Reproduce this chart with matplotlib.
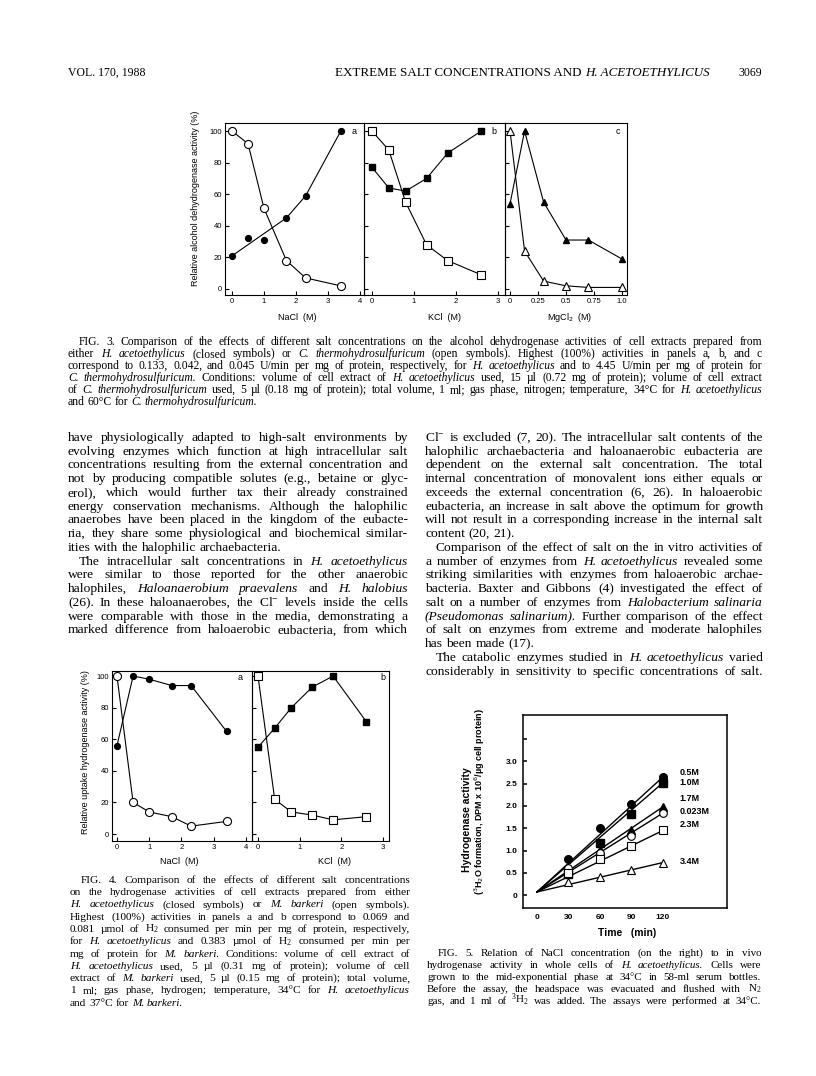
import matplotlib
matplotlib.use("agg")
import matplotlib.pyplot as plt

plt.rcParams['font.family'] = ['Liberation Sans', 'DejaVu Sans']
plt.rcParams['mathtext.fontset'] = 'custom'
plt.rcParams['mathtext.rm'] = 'Liberation Serif'
plt.rcParams['mathtext.it'] = 'Liberation Serif:italic'
plt.rcParams['mathtext.bf'] = 'Liberation Serif:bold'

# ---- data: Fig. 3 (alcohol dehydrogenase, % of max) ----
nacl_x = [0, 0.5, 1.0, 1.7, 2.3, 3.4]
adh_nacl_closed = [21, 32, 31, 45, 59, 100]
adh_nacl_closed_curve = [0, 3, 4, 5]          # points the drawn curve passes through
adh_nacl_open = [100, 92, 51, 18, 7, 2]
kcl_x = [0, 0.4, 0.8, 1.3, 1.8, 2.6]
adh_kcl_closed = [77, 64, 62, 70, 86, 100]
adh_kcl_open = [100, 88, 55, 28, 18, 9]
mgcl_x = [0, 0.13, 0.3, 0.5, 0.7, 1.0]
adh_mgcl_closed = [54, 100, 55, 31, 31, 19]
adh_mgcl_open = [100, 24, 5, 2, 1, 1]

# ---- data: Fig. 4 (uptake hydrogenase, % of max) ----
h2_nacl_x = [0, 0.5, 1.0, 1.7, 2.3, 3.4]
h2_nacl_closed = [56, 100, 98, 94, 94, 65]
h2_nacl_open = [100, 20, 14, 11, 5, 8]
h2_kcl_x = [0, 0.4, 0.8, 1.3, 1.8, 2.6]
h2_kcl_closed = [55, 67, 80, 93, 100, 71]
h2_kcl_open = [100, 22, 14, 12, 9, 11]

# ---- data: Fig. 5 (3H2O formation vs time) ----
time_min = [30, 60, 90, 120]
fit_origin = 0.07
salt_labels = ['0.5M', '1.0M', '1.7M', '0.023M', '2.3M', '3.4M']
h2o_05 = [0.80, 1.50, 2.05, 2.65]
h2o_10 = [0.47, 1.16, 1.83, 2.52]
h2o_17 = [0.55, 1.02, 1.46, 1.98]
h2o_0023 = [0.60, 0.95, 1.33, 1.84]
h2o_23 = [0.50, 0.80, 1.10, 1.45]
h2o_34 = [0.29, 0.41, 0.57, 0.73]

# ---- page text ----
left_col = [
    "have physiologically adapted to high-salt environments by",
    "evolving enzymes which function at high intracellular salt",
    "concentrations resulting from the external concentration and",
    "not by producing compatible solutes (e.g., betaine or glyc-",
    "erol), which would further tax their already constrained",
    "energy conservation mechanisms. Although the halophilic",
    "anaerobes have been placed in the kingdom of the eubacte-",
    "ria, they share some physiological and biochemical similar-",
    "ities with the halophilic archaebacteria.",
    "The intracellular salt concentrations in *H. acetoethylicus*",
    "were similar to those reported for the other anaerobic",
    "halophiles, *Haloanaerobium praevalens* and *H. halobius*",
    "(26). In these haloanaerobes, the Cl$^{-}$ levels inside the cells",
    "were comparable with those in the media, demonstrating a",
    "marked difference from haloaerobic eubacteria, from which",
]
right_col = [
    "Cl$^{-}$ is excluded (7, 20). The intracellular salt contents of the",
    "halophilic archaebacteria and haloanaerobic eubacteria are",
    "dependent on the external salt concentration. The total",
    "internal concentration of monovalent ions either equals or",
    "exceeds the external concentration (6, 26). In haloaerobic",
    "eubacteria, an increase in salt above the optimum for growth",
    "will not result in a corresponding increase in the internal salt",
    "content (20, 21).",
    "Comparison of the effect of salt on the in vitro activities of",
    "a number of enzymes from *H. acetoethylicus* revealed some",
    "striking similarities with enzymes from haloaerobic archae-",
    "bacteria. Baxter and Gibbons (4) investigated the effect of",
    "salt on a number of enzymes from *Halobacterium salinaria*",
    "(*Pseudomonas salinarium*). Further comparison of the effect",
    "of salt on enzymes from extreme and moderate halophiles",
    "has been made (17).",
    "The catabolic enzymes studied in *H. acetoethylicus* varied",
    "considerably in sensitivity to specific concentrations of salt.",
]
cap3 = [
    "FIG. 3. Comparison of the effects of different salt concentrations on the alcohol dehydrogenase activities of cell extracts prepared from",
    "either *H. acetoethylicus* (closed symbols) or *C. thermohydrosulfuricum* (open symbols). Highest (100%) activities in panels a, b, and c",
    "correspond to 0.133, 0.042, and 0.045 U/min per mg of protein, respectively, for *H. acetoethylicus* and to 4.45 U/min per mg of protein for",
    "*C. thermohydrosulfuricum*. Conditions: volume of cell extract of *H. acetoethylicus* used, 15 µl (0.72 mg of protein); volume of cell extract",
    "of *C. thermohydrosulfuricum* used, 5 µl (0.18 mg of protein); total volume, 1 ml; gas phase, nitrogen; temperature, 34°C for *H. acetoethylicus*",
    "and 60°C for *C. thermohydrosulfuricum*.",
]
cap4 = [
    "FIG. 4. Comparison of the effects of different salt concentrations",
    "on the hydrogenase activities of cell extracts prepared from either",
    "*H. acetoethylicus* (closed symbols) or *M. barkeri* (open symbols).",
    "Highest (100%) activities in panels a and b correspond to 0.069 and",
    "0.081 µmol of H$_2$ consumed per min per mg of protein, respectively,",
    "for *H. acetoethylicus* and 0.383 µmol of H$_2$ consumed per min per",
    "mg of protein for *M. barkeri*. Conditions: volume of cell extract of",
    "*H. acetoethylicus* used, 5 µl (0.31 mg of protein); volume of cell",
    "extract of *M. barkeri* used, 5 µl (0.15 mg of protein); total volume,",
    "1 ml; gas phase, hydrogen; temperature, 34°C for *H. acetoethylicus*",
    "and 37°C for *M. barkeri*.",
]
cap5 = [
    "FIG. 5. Relation of NaCl concentration (on the right) to in vivo",
    "hydrogenase activity in whole cells of *H. acetoethylicus*. Cells were",
    "grown to the mid-exponential phase at 34°C in 58-ml serum bottles.",
    "Before the assay, the headspace was evacuated and flushed with N$_2$",
    "gas, and 1 ml of $^3$H$_2$ was added. The assays were performed at 34°C.",
]

W, H = 816, 1076
fig = plt.figure(figsize=(W / 100, H / 100), dpi=100)
page = fig.add_axes([0, 0, 1, 1], zorder=0)
page.set_xlim(0, W)
page.set_ylim(H, 0)
page.axis('off')
renderer = fig.canvas.get_renderer()
SERIF = 'Liberation Serif'


def put_line(line, x0, x1, yc, size, justify=True, indent=0):
    toks, cur = [], False
    for tok in line.split():
        ital = cur or ('*' in tok)
        if tok.count('*') % 2:
            cur = not cur
        toks.append((tok.replace('*', ''), ital))
    y = yc + 0.33 * size * 100 / 72
    arts = [page.text(0, y, w, fontsize=size, family=SERIF, va='baseline',
                      style='italic' if it else 'normal') for w, it in toks]
    widths = [a.get_window_extent(renderer).width for a in arts]
    x = x0 + indent
    gap = 0.25 * size * 100 / 72
    if justify and len(arts) > 1:
        gap = (x1 - x - sum(widths)) / (len(arts) - 1)
    for a, w in zip(arts, widths):
        a.set_x(x)
        x += w + gap


def put_block(lines, x0, x1, y0, dy, size, indents=(), lasts=(), ind=11):
    for i, ln in enumerate(lines):
        put_line(ln, x0, x1, y0 + i * dy, size, justify=i not in lasts,
                 indent=ind if i in indents else 0)


# header: running title spans x 335..708
page.text(68, 76, "VOL. 170, 1988", family=SERIF, fontsize=8.5, va='baseline')
page.text(762, 76, "3069", family=SERIF, fontsize=8.5, va='baseline', ha='right')
h1 = page.text(335, 76, "EXTREME SALT CONCENTRATIONS AND ", family=SERIF,
               fontsize=8.5, va='baseline')
h2 = page.text(335, 76, "H. ACETOETHYLICUS", family=SERIF, fontsize=8.5,
               style='italic', va='baseline')
w1 = h1.get_window_extent(renderer).width
w2 = h2.get_window_extent(renderer).width
hs = 8.5 * (708 - 335) / (w1 + w2)
h1.set_fontsize(hs)
h2.set_fontsize(hs)
h2.set_x(335 + h1.get_window_extent(renderer).width)

put_block(cap3, 68, 762, 341, 12.0, 8.4, indents={0}, lasts={5})
put_block(left_col, 68, 408, 436.5, 13.75, 9.7, indents={9}, lasts={8})
put_block(right_col, 425, 763, 436.5, 13.75, 9.7, indents={8, 16}, lasts={7, 15})
put_block(cap4, 70, 410, 879, 12.3, 8.2, indents={0}, lasts={10})
put_block(cap5, 427, 761, 952, 12.0, 7.9, indents={0})


def box(x0, y0, x1, y1):
    return fig.add_axes([x0 / W, 1 - y1 / H, (x1 - x0) / W, (y1 - y0) / H], zorder=2)


def style(ax, lw=0.8, size=5.5, pad=2):
    for s in ax.spines.values():
        s.set_linewidth(lw)
    ax.tick_params(direction='in', length=3, width=lw, labelsize=size, pad=pad)
    ax.patch.set_alpha(0)


closed = dict(color='black', lw=0.8, mfc='black', mec='black')
opened = dict(color='black', lw=0.8, mfc='white', mec='black', mew=0.8)

# ---- Fig. 3 ----
a3 = box(225, 123, 364, 295)
b3 = box(364, 123, 505, 295)
c3 = box(505, 123, 627, 295)
for ax in (a3, b3, c3):
    style(ax)
    ax.set_ylim(-3.8, 105.1)
    ax.set_yticks([0, 20, 40, 60, 80, 100])
b3.set_yticklabels([])
c3.set_yticklabels([])
a3.set_xlim(-0.22, 4.125)
a3.set_xticks([0, 1, 2, 3, 4])
b3.set_xlim(-0.19, 3.167)
b3.set_xticks([0, 1, 2, 3])
c3.set_xlim(-0.045, 1.045)
c3.set_xticks([0, 0.25, 0.5, 0.75, 1.0])
c3.set_xticklabels(['0', '0.25', '0.5', '0.75', '1.0'])

a3.plot([nacl_x[i] for i in adh_nacl_closed_curve],
        [adh_nacl_closed[i] for i in adh_nacl_closed_curve], color='black', lw=0.8)
a3.plot(nacl_x, adh_nacl_closed, 'o', ms=4.2, **closed)
a3.plot(nacl_x, adh_nacl_open, 'o-', ms=5.8, **opened)
b3.plot(kcl_x, adh_kcl_closed, 's-', ms=4.2, **closed)
b3.plot(kcl_x, adh_kcl_open, 's-', ms=5.8, **opened)
c3.plot(mgcl_x, adh_mgcl_closed, '^-', ms=4.2, **closed)
c3.plot(mgcl_x, adh_mgcl_open, '^-', ms=5.5, **opened)
a3.text(3.75, 100, 'a', fontsize=6.5, va='center')
b3.text(2.85, 100, 'b', fontsize=6.5, va='center')
c3.text(0.94, 100, 'c', fontsize=6.5, va='center')
page.text(297, 317, 'NaCl  (M)', fontsize=6.5, ha='center', va='center')
page.text(445, 317, 'KCl  (M)', fontsize=6.5, ha='center', va='center')
page.text(570, 317, 'MgCl$_2$  (M)', fontsize=6.5, ha='center', va='center',
          math_fontfamily='dejavusans')
page.text(195, 198, 'Relative alcohol dehydrogenase activity (%)', fontsize=6.5,
          rotation=90, ha='center', va='center')

# ---- Fig. 4 ----
a4 = box(112, 671, 252, 841)
b4 = box(252, 671, 389, 841)
for ax in (a4, b4):
    style(ax)
    ax.set_ylim(-4.4, 103.2)
    ax.set_yticks([0, 20, 40, 60, 80, 100])
b4.set_yticklabels([])
a4.set_xlim(-0.155, 4.19)
a4.set_xticks([0, 1, 2, 3, 4])
b4.set_xlim(-0.144, 3.14)
b4.set_xticks([0, 1, 2, 3])
a4.plot(h2_nacl_x, h2_nacl_closed, 'o-', ms=4.2, **closed)
a4.plot(h2_nacl_x, h2_nacl_open, 'o-', ms=5.8, **opened)
b4.plot(h2_kcl_x, h2_kcl_closed, 's-', ms=4.2, **closed)
b4.plot(h2_kcl_x, h2_kcl_open, 's-', ms=5.8, **opened)
a4.text(3.73, 99, 'a', fontsize=6.5, va='center')
b4.text(2.93, 99, 'b', fontsize=6.5, va='center')
page.text(179, 862, 'NaCl  (M)', fontsize=6.5, ha='center', va='center')
page.text(335, 862, 'KCl  (M)', fontsize=6.5, ha='center', va='center')
page.text(85, 752, 'Relative uptake hydrogenase activity (%)', fontsize=6.5,
          rotation=90, ha='center', va='center')

# ---- Fig. 5 ----
ax5 = box(523, 715, 727, 908)
style(ax5, lw=1.1, size=6, pad=4)
ax5.set_xlim(-13.3, 181)
ax5.set_ylim(-0.29, 4.04)
ax5.set_xticks([0, 30, 60, 90, 120])
ax5.tick_params(axis='x', length=0, pad=4)
ax5.set_yticks([0, 0.5, 1.0, 1.5, 2.0, 2.5, 3.0, 3.5])
ax5.set_yticklabels(['0', '0.5', '1.0', '1.5', '2.0', '2.5', '3.0', ''])
for lab in ax5.get_xticklabels() + ax5.get_yticklabels():
    lab.set_fontweight('bold')
series5 = [h2o_05, h2o_10, h2o_17, h2o_0023, h2o_23, h2o_34]
marks5 = [('o', closed), ('s', closed), ('^', closed),
          ('o', opened), ('s', opened), ('^', opened)]
label_y = [2.76, 2.53, 2.17, 1.88, 1.59, 0.76]
for ys, (m, st), lab, ly in zip(series5, marks5, salt_labels, label_y):
    ax5.plot([0, time_min[-1]], [fit_origin, ys[-1]], color='black', lw=1.0)
    ax5.plot(time_min, ys, m, ms=5.5, ls='none', **{k: v for k, v in st.items() if k != 'lw'})
    ax5.text(136, ly, lab, fontsize=6.5, fontweight='bold', va='center')
page.text(627, 933, 'Time   (min)', fontsize=7.5, fontweight='bold', ha='center', va='center')
page.text(467, 820, 'Hydrogenase activity', fontsize=7.5, fontweight='bold',
          rotation=90, ha='center', va='center')
page.text(480, 802, '($^3$H$_2$O formation, DPM x 10$^6$/µg cell protein)', fontsize=6.5,
          fontweight='bold', rotation=90, ha='center', va='center',
          math_fontfamily='dejavusans')

fig.savefig('out.png', dpi=100)
